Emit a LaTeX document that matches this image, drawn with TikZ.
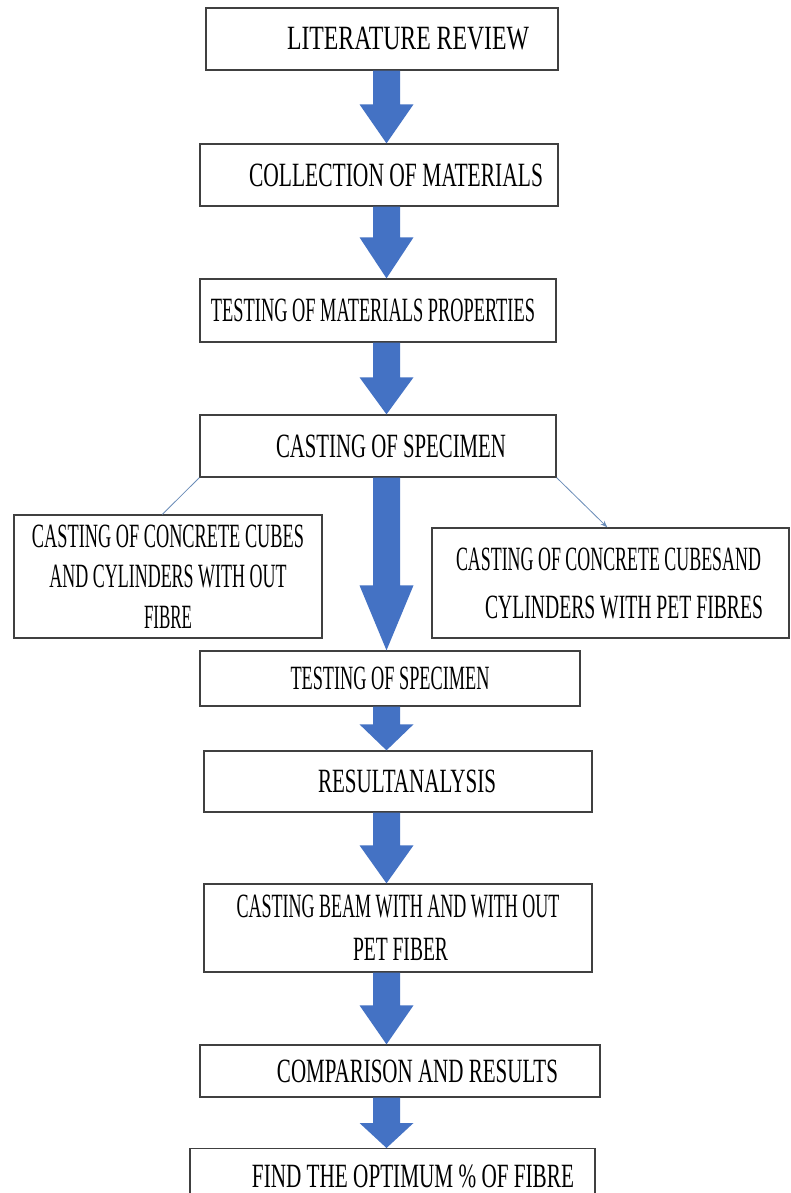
\documentclass[tikz,border=0pt]{standalone}
\usepackage{fontspec}
\setmainfont{Liberation Serif}
\usepackage{graphicx}
\usetikzlibrary{calc,arrows.meta}
\definecolor{arrowblue}{HTML}{4472C4}
\definecolor{boxline}{HTML}{404040}
\definecolor{linkblue}{HTML}{6A8CB8}
\newcommand\tw[2]{\resizebox{#1}{\height}{#2}}
\newcommand\ax{386.5pt}
\newcommand\bluearrow[3]{%
  \fill[arrowblue] let \p1=(#1.south), \p2=(#2.north) in
    (\ax-13.5pt,\y1) -- (\ax+13.5pt,\y1) -- (\ax+13.5pt,\y2+#3) --
    (\ax+27pt,\y2+#3) -- (\ax,\y2) -- (\ax-27pt,\y2+#3) --
    (\ax-13.5pt,\y2+#3) -- cycle;}
\begin{document}
\begin{tikzpicture}[x=1pt,y=-1pt,
  box/.style={draw=boxline,line width=1.3pt,fill=white,inner sep=0pt,
    align=center,font=\fontsize{34}{43}\selectfont},
  link/.style={draw=linkblue,line width=0.8pt}]
\path[use as bounding box] (0,0) rectangle (790,1193);
\fill[white] (0,0) rectangle (790,1193);
\clip (0,0) rectangle (790,1193);

\node[box,minimum width=352pt,minimum height=62pt] (b1) at (382,39)
  {\hspace*{52pt}\tw{242pt}{LITERATURE REVIEW}};
\node[box,minimum width=358pt,minimum height=62pt] (b2) at (379,175)
  {\hspace*{34pt}\tw{294pt}{COLLECTION OF MATERIALS}};
\node[box,minimum width=356pt,minimum height=63pt] (b3) at (378,310.5)
  {\tw{324pt}{TESTING OF MATERIALS PROPERTIES}\hspace*{10pt}};
\node[box,minimum width=356pt,minimum height=62pt] (b4) at (378,446)
  {\hspace*{26pt}\tw{230pt}{CASTING OF SPECIMEN}};
\node[box,minimum width=308pt,minimum height=123pt,
  font=\fontsize{34}{40.5}\selectfont] (lb) at (168,576.5)
  {\tw{272pt}{CASTING OF CONCRETE CUBES}\\
   \tw{237pt}{AND CYLINDERS WITH OUT}\\
   \tw{48pt}{FIBRE}};
\node[box,minimum width=357pt,minimum height=110pt,
  font=\fontsize{34}{48}\selectfont] (rb) at (610.5,583)
  {\tw{305pt}{CASTING OF CONCRETE CUBESAND}\hspace*{4pt}\\
   \hspace*{27pt}\tw{278pt}{CYLINDERS WITH PET FIBRES}};
\node[box,minimum width=380pt,minimum height=55pt] (b5) at (390,678.5)
  {\tw{199pt}{TESTING OF SPECIMEN}};
\node[box,minimum width=388pt,minimum height=61pt] (b6) at (398,781.5)
  {\hspace*{18pt}\tw{178pt}{RESULTANALYSIS}};
\node[box,minimum width=388pt,minimum height=88pt] (b7) at (398,928)
  {\tw{323pt}{CASTING BEAM WITH AND WITH OUT}\\
   \hspace*{5pt}\tw{95pt}{PET FIBER}};
\node[box,minimum width=400pt,minimum height=52pt] (b8) at (400,1071)
  {\hspace*{35pt}\tw{281pt}{COMPARISON AND RESULTS}};
\node[box,minimum width=405pt,minimum height=60pt,anchor=north] (b9) at (392.5,1148)
  {\raisebox{4pt}{\hspace*{41pt}\tw{322pt}{FIND THE OPTIMUM \% OF FIBRE}}};

\bluearrow{b1}{b2}{39pt}
\bluearrow{b2}{b3}{41pt}
\bluearrow{b3}{b4}{37pt}
\bluearrow{b4}{b5}{65pt}
\bluearrow{b5}{b6}{26pt}
\bluearrow{b6}{b7}{38pt}
\bluearrow{b7}{b8}{39pt}
\bluearrow{b8}{b9}{25pt}

\draw[link] (b4.south west) -- ($(lb.north west)+(149,0)$);
\draw[link,-{Stealth[length=7pt,width=5pt]}] (b4.south east) -- ($(rb.north west)+(176,0)$);
\end{tikzpicture}
\end{document}
